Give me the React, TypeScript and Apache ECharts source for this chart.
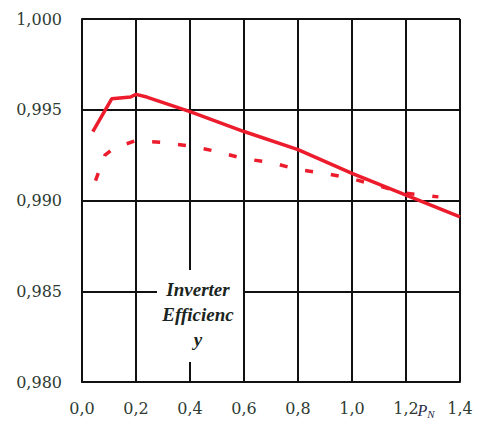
import React, { useEffect, useRef } from "react";
import * as echarts from "echarts";

const xTicks = [0, 0.2, 0.4, 0.6, 0.8, 1.0, 1.2, 1.4];
const yTicks = [0.98, 0.985, 0.99, 0.995, 1.0];

const solidX = [0.04, 0.11, 0.18, 0.2, 0.24, 0.4, 0.6, 0.8, 1.0, 1.2, 1.4];
const solidY = [0.9938, 0.9956, 0.9957, 0.99585, 0.9957, 0.9949, 0.9938, 0.9928, 0.9915, 0.9903, 0.9891];

const dashX = [0.05, 0.085, 0.12, 0.2, 0.3, 0.4, 0.5, 0.6, 0.7, 0.8, 0.9, 1.0, 1.1, 1.2, 1.32];
const dashY = [0.9911, 0.9925, 0.9929, 0.9933, 0.9932, 0.993, 0.9927, 0.9923, 0.9921, 0.9917, 0.9915, 0.9912, 0.9908, 0.9904, 0.9902];

const annotation = ["Inverter", "Efficienc", "y"];

export default function App() {
  const ref = useRef<HTMLDivElement>(null);
  useEffect(() => {
    if (!ref.current) return;
    const chart = echarts.init(ref.current, null, { renderer: "svg" });
    const labelColor = "#2e3b33";
    const labelFont = { fontFamily: "DejaVu Serif", fontSize: 16, color: labelColor };
    chart.setOption({
      animation: false,
      backgroundColor: "#ffffff",
      grid: { left: 82, right: 18, top: 19, bottom: 46, show: false },
      xAxis: {
        type: "value",
        min: xTicks[0],
        max: xTicks[xTicks.length - 1],
        interval: 0.2,
        axisLine: { show: true, lineStyle: { color: "#111", width: 2 } },
        axisTick: { show: false },
        splitLine: { show: true, lineStyle: { color: "#111", width: 2 } },
        axisLabel: {
          ...labelFont,
          margin: 18,
          formatter: (v: number) => v.toFixed(1).replace(".", ","),
        },
      },
      yAxis: {
        type: "value",
        min: yTicks[0],
        max: yTicks[yTicks.length - 1],
        interval: 0.005,
        axisLine: { show: true, lineStyle: { color: "#111", width: 2 } },
        axisTick: { show: false },
        splitLine: { show: true, lineStyle: { color: "#111", width: 2 } },
        axisLabel: {
          ...labelFont,
          margin: 20,
          formatter: (v: number) => v.toFixed(3).replace(".", ","),
        },
      },
      series: [
        {
          type: "line",
          data: solidX.map((x, i) => [x, solidY[i]]),
          showSymbol: false,
          lineStyle: { color: "#ec1c2c", width: 3.5 },
          z: 3,
        },
        {
          type: "line",
          data: dashX.map((x, i) => [x, dashY[i]]),
          showSymbol: false,
          lineStyle: { color: "#ec1c2c", width: 3.5, type: [8, 18] },
          z: 3,
        },
      ],
      graphic: [
        {
          type: "rect",
          z: 10,
          shape: { x: 157, y: 270, width: 86, height: 92 },
          style: { fill: "#ffffff" },
        },
        {
          type: "text",
          z: 11,
          x: 198,
          y: 314,
          style: {
            text: annotation.join("\n"),
            fontFamily: "Liberation Serif",
            fontStyle: "italic",
            fontWeight: "bold",
            fontSize: 19,
            lineHeight: 25,
            fill: "#1a2420",
            align: "center",
            verticalAlign: "middle",
          },
        },
        {
          type: "text",
          z: 11,
          x: 426,
          y: 410,
          style: {
            text: "{p|P}{n|N}",
            align: "center",
            verticalAlign: "middle",
            rich: {
              p: { fontFamily: "Liberation Serif", fontStyle: "italic", fontSize: 16, fill: "#2b2a4a" },
              n: { fontFamily: "Liberation Serif", fontStyle: "italic", fontSize: 11, fill: "#2b2a4a", padding: [8, 0, 0, 0] },
            },
          },
        },
      ],
    });
    return () => chart.dispose();
  }, []);
  return (
    <div
      ref={ref}
      style={{ position: "fixed", left: 0, top: 0, width: 478, height: 428 }}
    />
  );
}
